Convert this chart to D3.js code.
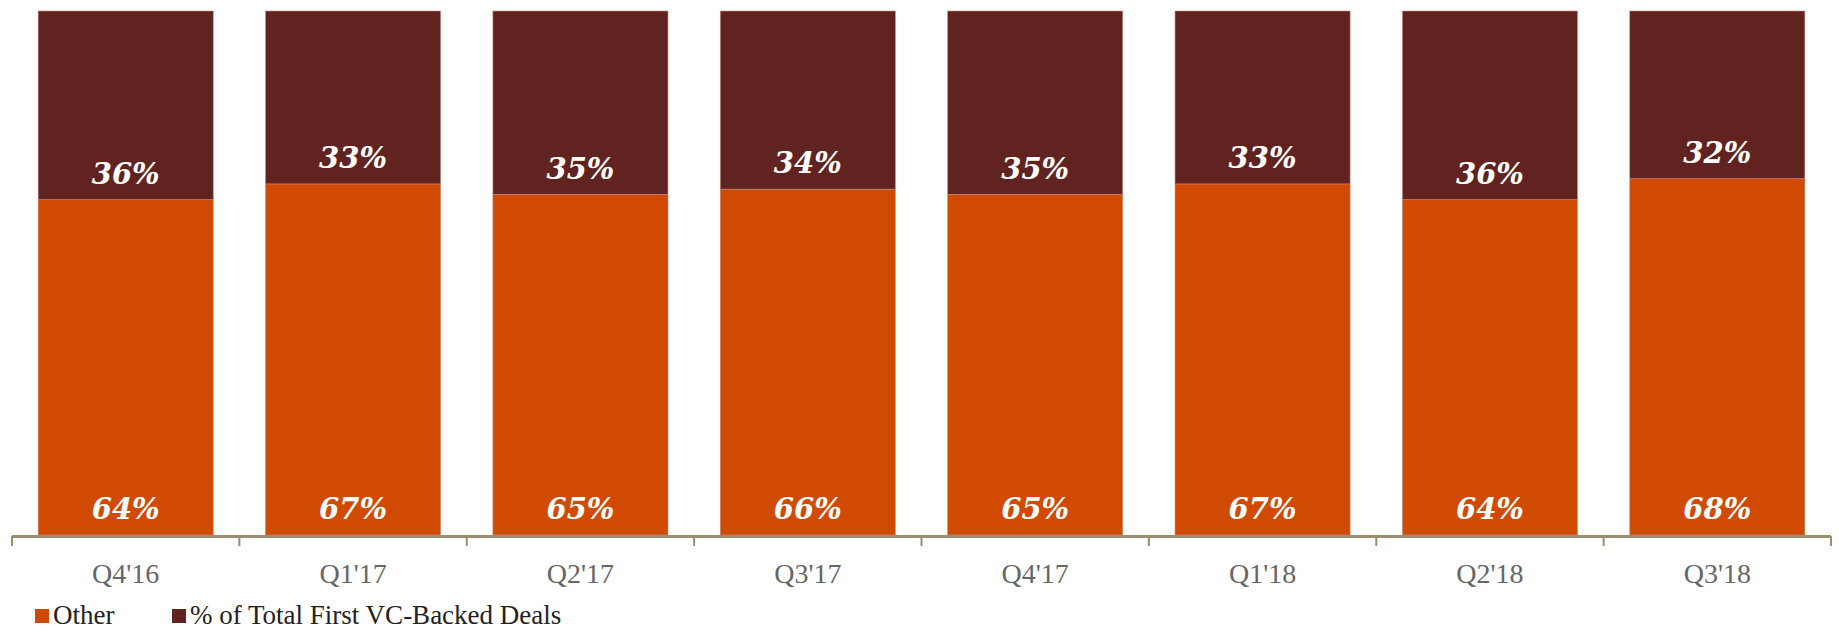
<!DOCTYPE html>
<html>
<head>
<meta charset="utf-8">
<script src="https://cdn.jsdelivr.net/npm/d3@7"></script>
<style>
  body { margin: 0; background: #fff; }
  svg { display: block; }
</style>
</head>
<body>
<svg id="chart" width="1839" height="633"></svg>
<script>
// quarters and the two stacked shares
var quarters = ["Q4'16", "Q1'17", "Q2'17", "Q3'17", "Q4'17", "Q1'18", "Q2'18", "Q3'18"];
var other = [64, 67, 65, 66, 65, 67, 64, 68];
var firstVC = [36, 33, 35, 34, 35, 33, 36, 32];

var seriesNames = ["Other", "% of Total First VC-Backed Deals"];
var colores = ["#D04A02", "#602320"];

const width = 1839;
const height = 633;

var svg = d3.select("#chart");

var x = d3.scaleBand()
    .domain(quarters)
    .range([12, 1831])
    .paddingInner(0.23)
    .paddingOuter(0.115);

var y = d3.scaleLinear()
    .domain([0, 100])
    .range([535, 11]);

// build rows for the stack
var filas = quarters.map((q, i) => ({ q: q, Other: other[i], VC: firstVC[i] }));

var stack = d3.stack().keys(["Other", "VC"]);
var capas = stack(filas);

var font = "'Liberation Serif', 'DejaVu Serif', serif";

var grupos = svg.append("g")
  .selectAll("g")
  .data(capas)
  .join("g")
    .attr("fill", (d, i) => colores[i]);

grupos.selectAll("rect")
  .data(d => d)
  .join("rect")
    .attr("x", d => x(d.data.q))
    .attr("y", d => y(d[1]))
    .attr("width", x.bandwidth())
    .attr("height", d => y(d[0]) - y(d[1]))
    .attr("stroke", "#c98a78")
    .attr("stroke-width", 0.6);

// value labels near the bottom of each segment
grupos.selectAll("text")
  .data(d => d)
  .join("text")
    .attr("x", d => x(d.data.q) + x.bandwidth() / 2)
    .attr("y", d => y(d[0]) - 26)
    .attr("dy", "0.35em")
    .attr("text-anchor", "middle")
    .attr("fill", "#fff")
    .attr("font-family", "'DejaVu Serif', serif")
    .attr("font-weight", "bold")
    .attr("font-style", "italic")
    .attr("font-size", 29)
    .text(d => (d[1] - d[0]) + "%");

// x axis: line plus ticks at band edges
var eje = svg.append("g");
eje.append("line")
    .attr("x1", 12).attr("x2", 1831)
    .attr("y1", 536.5).attr("y2", 536.5)
    .attr("stroke", "#9a8e6e")
    .attr("stroke-width", 3);

var bordes = quarters.map(q => x(q) - x.step() * x.paddingInner() / 2);
bordes[0] = 12;
bordes.push(1831);

eje.selectAll("line.tick")
  .data(bordes)
  .join("line")
    .attr("class", "tick")
    .attr("x1", d => d).attr("x2", d => d)
    .attr("y1", 536).attr("y2", 546)
    .attr("stroke", "#9a8e6e")
    .attr("stroke-width", 2);

eje.selectAll("text")
  .data(quarters)
  .join("text")
    .attr("x", d => x(d) + x.bandwidth() / 2)
    .attr("y", 573)
    .attr("dy", "0.35em")
    .attr("text-anchor", "middle")
    .attr("fill", "#666")
    .attr("font-family", font)
    .attr("font-size", 28)
    .text(d => d);

// legend
var leyenda = svg.append("g");
var posLeyenda = [35, 172];

leyenda.selectAll("rect")
  .data(seriesNames)
  .join("rect")
    .attr("x", (d, i) => posLeyenda[i])
    .attr("y", 609)
    .attr("width", 14)
    .attr("height", 14)
    .attr("fill", (d, i) => colores[i]);

leyenda.selectAll("text")
  .data(seriesNames)
  .join("text")
    .attr("x", (d, i) => posLeyenda[i] + 18)
    .attr("y", 615)
    .attr("dy", "0.35em")
    .attr("fill", "#222")
    .attr("font-family", font)
    .attr("font-size", 27)
    .text(d => d);
</script>
</body>
</html>
